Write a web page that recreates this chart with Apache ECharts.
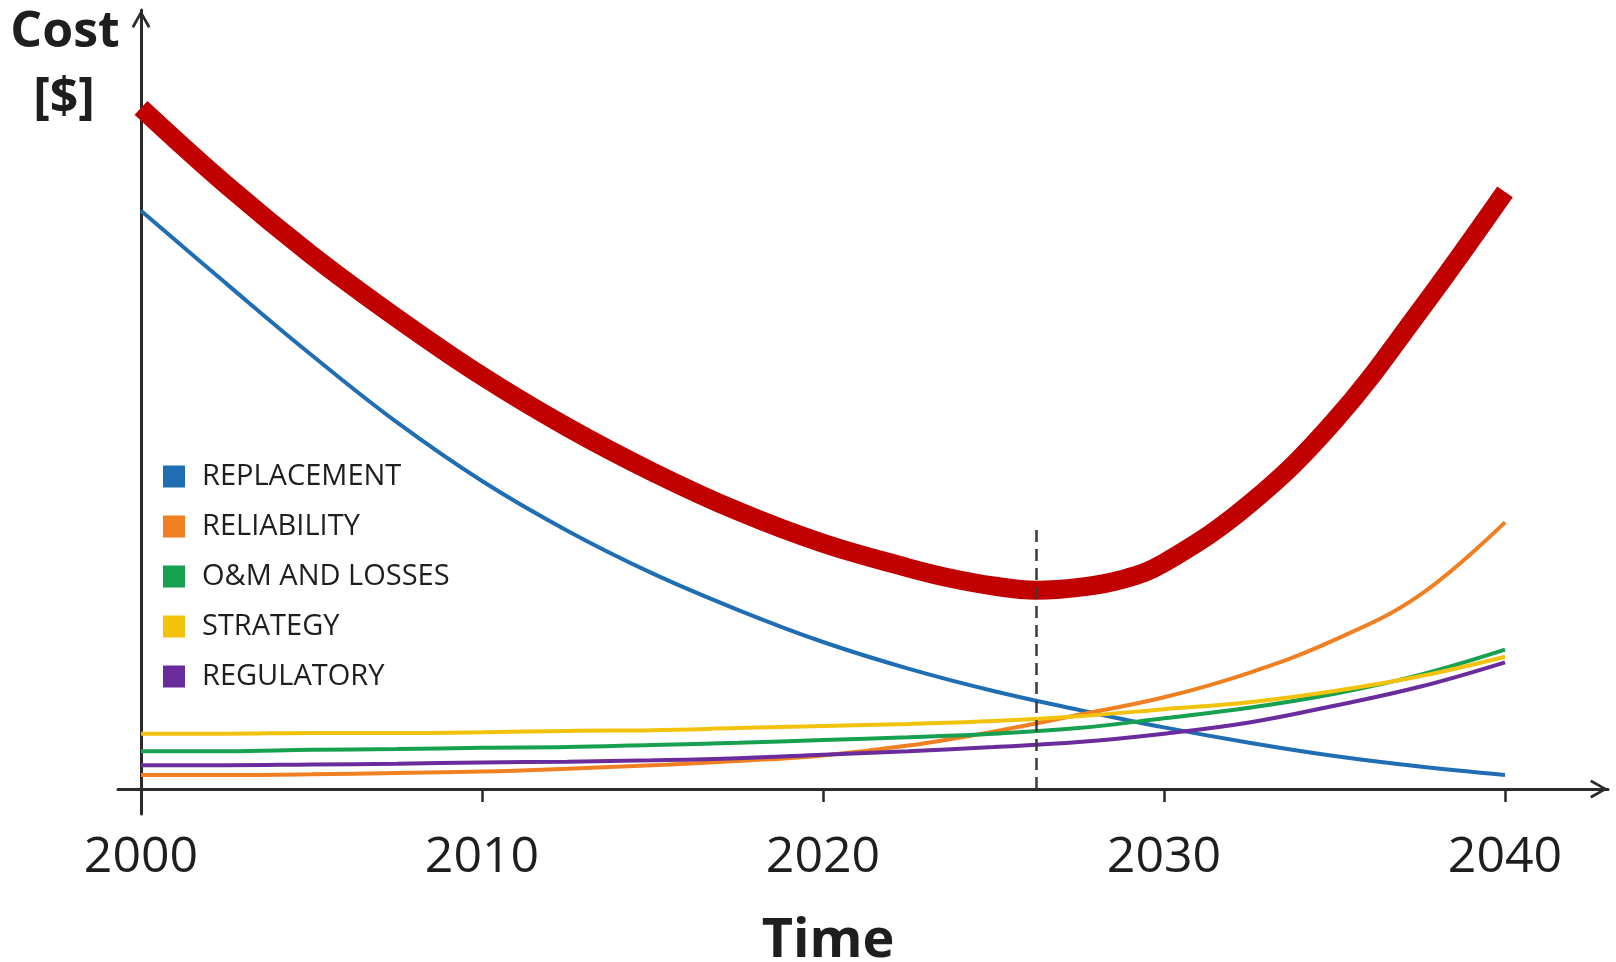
<!DOCTYPE html>
<html>
<head>
<meta charset="utf-8">
<title>Cost over time</title>
<script src="https://cdn.jsdelivr.net/npm/echarts@6/dist/echarts.min.js"></script>
<style>
  html, body { margin: 0; padding: 0; background: #ffffff; }
  #chart { width: 1616px; height: 962px; }
</style>
</head>
<body>
<div id="chart"></div>
<script>
// Sample years (every 2.5 years) for the cost components
const years = [2000, 2002.5, 2005, 2007.5, 2010, 2012.5, 2015, 2017.5, 2020,
               2022.5, 2025, 2027.5, 2030, 2032.5, 2035, 2037.5, 2040];

// Cost components (relative units)
const replacement = [82.6, 72.2, 62.0, 52.4, 44.0, 36.9, 30.8, 25.6, 21.0, 17.2, 14.0, 11.3, 8.8, 6.6, 4.7, 3.2, 2.0];
const reliability = [2.0, 2.0, 2.1, 2.3, 2.5, 2.9, 3.4, 4.0, 4.8, 6.2, 8.2, 10.6, 13.1, 16.6, 21.3, 27.7, 38.1];
const omLosses    = [5.4, 5.4, 5.6, 5.7, 5.9, 6.0, 6.3, 6.6, 7.0, 7.4, 7.9, 8.7, 10.1, 11.6, 13.6, 16.3, 19.9];
const strategy    = [7.9, 7.9, 8.0, 8.0, 8.1, 8.3, 8.4, 8.7, 9.0, 9.3, 9.7, 10.4, 11.4, 12.4, 14.0, 16.1, 18.9];
const regulatory  = [3.4, 3.4, 3.5, 3.6, 3.8, 3.9, 4.1, 4.4, 4.9, 5.4, 6.0, 6.7, 7.9, 9.5, 11.9, 14.6, 18.1];

// Total lifecycle cost, sampled more densely around its minimum
const totalYears = [2000, 2002.5, 2005, 2007.5, 2010, 2012.5, 2015, 2017.5, 2020,
                    2022.5, 2023.75, 2025, 2026.25, 2027.5, 2028.75, 2030, 2032.5, 2035, 2037.5, 2040];
const totalCost  = [97.3, 86.3, 76.3, 67.3, 59.0, 51.7, 45.3, 39.7, 35.1,
                    31.6, 30.1, 29.0, 28.4, 28.8, 29.9, 32.3, 40.7, 52.6, 68.3, 85.3];

// Optimal intervention point (vertical dashed marker)
const optimumYear = 2026.25;
const optimumMarkerTop = 37.3;

// Axis labels
const tickYears = [2000, 2010, 2020, 2030, 2040];
const componentNames = ['REPLACEMENT', 'RELIABILITY', 'O&M AND LOSSES', 'STRATEGY', 'REGULATORY'];

const FONT = "'Open Sans', 'Noto Sans', sans-serif";
const INK = '#1e1e1e';
const AXIS_COLOR = '#2a2a2a';
// open chevron arrow head, pointing along the axis
const CHEVRON = 'path://M10,0 L20,17.6 L17.4,19.2 L10,5.6 L2.6,19.2 L0,17.6 Z';

function pairs(xs, values) {
  return xs.map((x, i) => [x, values[i]]);
}

function component(name, values, color) {
  return {
    type: 'line',
    name: name,
    data: pairs(years, values),
    smooth: 0.4,
    symbol: 'none',
    showSymbol: false,
    color: color,
    itemStyle: { color: color },
    lineStyle: { color: color, width: 4 },
    emphasis: { disabled: true },
    z: 3
  };
}

const chart = echarts.init(document.getElementById('chart'), null, { renderer: 'canvas' });

const option = {
  animation: false,
  backgroundColor: '#ffffff',
  grid: { left: 118, right: 8, top: 10, bottom: 148, containLabel: false },
  xAxis: {
    type: 'value',
    min: 1999.3255,
    max: 2043.0205,
    offset: -25,
    axisLine: {
      show: true,
      onZero: false,
      lineStyle: { color: AXIS_COLOR, width: 3 },
      symbol: ['none', CHEVRON],
      symbolSize: [22, 18],
      symbolOffset: [0, -9]
    },
    axisTick: {
      show: true,
      length: 13,
      customValues: tickYears,
      lineStyle: { color: AXIS_COLOR, width: 2.5 }
    },
    axisLabel: {
      show: true,
      customValues: tickYears,
      margin: 44,
      fontSize: 50,
      fontFamily: FONT,
      color: INK,
      formatter: v => String(v)
    },
    splitLine: { show: false }
  },
  yAxis: {
    type: 'value',
    min: -3.5714,
    max: 111.2857,
    offset: -23,
    axisLine: {
      show: true,
      onZero: false,
      lineStyle: { color: AXIS_COLOR, width: 3 },
      symbol: ['none', CHEVRON],
      symbolSize: [19, 18],
      symbolOffset: [0, -9]
    },
    axisTick: { show: false },
    axisLabel: { show: false },
    splitLine: { show: false }
  },
  legend: {
    data: componentNames,
    orient: 'vertical',
    left: 163,
    top: 462,
    padding: 0,
    icon: 'rect',
    itemWidth: 22,
    itemHeight: 22,
    itemGap: 21,
    selectedMode: false,
    textStyle: {
      fontSize: 29,
      fontFamily: FONT,
      color: INK,
      lineHeight: 22,
      padding: [4, 0, 0, 12]
    }
  },
  graphic: [
    { type: 'text', x: 65, y: 33, style: { text: 'Cost', font: 'bold 50px ' + FONT, fill: INK, align: 'center', verticalAlign: 'middle' } },
    { type: 'text', x: 64, y: 99, style: { text: '[$]', font: 'bold 50px ' + FONT, fill: INK, align: 'center', verticalAlign: 'middle' } },
    { type: 'text', x: 828, y: 942, style: { text: 'Time', font: 'bold 54px ' + FONT, fill: INK, align: 'center', verticalAlign: 'middle' } }
  ],
  series: [
    component('REPLACEMENT', replacement, '#1f6db3'),
    component('RELIABILITY', reliability, '#f07f22'),
    component('O&M AND LOSSES', omLosses, '#16a04f'),
    component('STRATEGY', strategy, '#f3c20c'),
    component('REGULATORY', regulatory, '#6a2c9c'),
    {
      type: 'line',
      name: 'TOTAL',
      data: pairs(totalYears, totalCost),
      smooth: 0.4,
      symbol: 'none',
      showSymbol: false,
      color: '#c10000',
      lineStyle: { color: '#c10000', width: 19, cap: 'butt' },
      emphasis: { disabled: true },
      z: 4,
      markLine: {
        silent: true,
        symbol: ['none', 'none'],
        label: { show: false },
        emphasis: { disabled: true },
        lineStyle: { color: '#3a3a3a', width: 2.5, type: [12, 7] },
        z: 6,
        data: [[{ coord: [optimumYear, 0] }, { coord: [optimumYear, optimumMarkerTop] }]]
      }
    }
  ]
};

chart.setOption(option);
</script>
</body>
</html>
